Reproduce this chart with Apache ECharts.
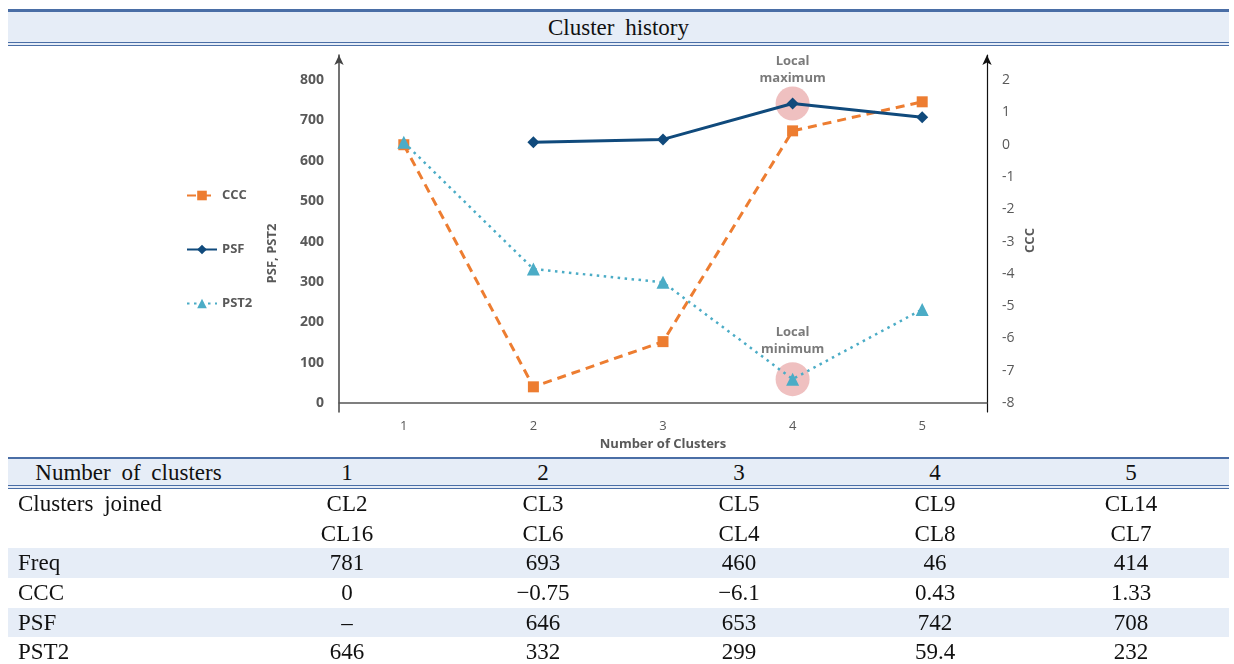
<!DOCTYPE html>
<html>
<head>
<meta charset="utf-8">
<script src="https://cdn.jsdelivr.net/npm/echarts@6/dist/echarts.min.js"></script>
<style>
  body { margin: 0; background: #fff; }
  #chart { position: absolute; left: 0; top: 0; width: 1234px; height: 664px; }
  .serif { font-family: "Liberation Serif", "DejaVu Serif", serif; color: #111; }
  #title {
    position: absolute; left: 8px; top: 9px; width: 1221px; height: 30px;
    background: #e6edf7; border-top: 3px solid #4a6ea6; border-bottom: 4px double #4a6ea6;
    text-align: center; font-size: 23px; line-height: 31px; word-spacing: 5px;
  }
  #table { position: absolute; left: 8px; top: 457px; width: 1221px; }
  .row { position: relative; height: 29.7px; font-size: 23px; line-height: 30px; }
  .row.head { height: 26px; line-height: 27px; background: #e6edf7;
    border-top: 2px solid #4a6ea6; border-bottom: 4px double #4a6ea6; }
  .row.shade { background: #e6edf7; }
  .cell { position: absolute; top: 0; width: 196px; text-align: center; word-spacing: 5px; }
  .lab { position: absolute; top: 0; left: 10px; word-spacing: 5px; }
</style>
</head>
<body>
<div id="chart"></div>
<div id="title" class="serif">Cluster history</div>
<div id="table" class="serif"></div>
<script>
// chart data
const categories = ['1', '2', '3', '4', '5'];
const cccPlot = [0, -7.5, -6.1, 0.43, 1.33];
const psf = ['-', 646, 653, 742, 708];
const pst2 = [646, 332, 299, 59.4, 232];
const leftTicks = [0, 100, 200, 300, 400, 500, 600, 700, 800];
const rightTicks = [-8, -7, -6, -5, -4, -3, -2, -1, 0, 1, 2];

// table data
const joinedA = ['CL2', 'CL3', 'CL5', 'CL9', 'CL14'];
const joinedB = ['CL16', 'CL6', 'CL4', 'CL8', 'CL7'];
const freq = ['781', '693', '460', '46', '414'];
const cccText = ['0', '\u22120.75', '\u22126.1', '0.43', '1.33'];
const psfText = ['\u2013', '646', '653', '742', '708'];
const pst2Text = ['646', '332', '299', '59.4', '232'];

// build the table
const tableRows = [
  { label: 'Number of clusters', vals: categories, cls: 'head' },
  { label: 'Clusters joined', vals: joinedA, cls: '' },
  { label: '', vals: joinedB, cls: '' },
  { label: 'Freq', vals: freq, cls: 'shade' },
  { label: 'CCC', vals: cccText, cls: '' },
  { label: 'PSF', vals: psfText, cls: 'shade' },
  { label: 'PST2', vals: pst2Text, cls: '' }
];
let html = '';
tableRows.forEach(r => {
  html += '<div class="row ' + r.cls + '">';
  if (r.cls === 'head') {
    html += '<div class="cell" style="left:0;width:241px">' + r.label + '</div>';
  } else {
    html += '<div class="lab">' + r.label + '</div>';
  }
  r.vals.forEach((v, i) => {
    html += '<div class="cell" style="left:' + (241 + i * 196) + 'px">' + v + '</div>';
  });
  html += '</div>';
});
document.getElementById('table').innerHTML = html;

const gray = '#595959';
const font = '"Open Sans", "Noto Sans", sans-serif';
const myChart = echarts.init(document.getElementById('chart'));
const option = {
  animation: false,
  textStyle: { fontFamily: font },
  grid: { left: 339, right: 247, top: 55, bottom: 252 },
  legend: {
    orient: 'vertical', left: 186, top: 189, padding: 0, itemWidth: 30, itemHeight: 12, itemGap: 41,
    data: ['CCC', 'PSF', 'PST2'],
    textStyle: { color: gray, fontSize: 13, fontWeight: 'bold', fontFamily: font }
  },
  xAxis: {
    type: 'category', data: categories, boundaryGap: true,
    name: 'Number of Clusters', nameLocation: 'middle', nameGap: 25,
    nameTextStyle: { color: gray, fontSize: 13, fontWeight: 'bold' },
    axisLine: { lineStyle: { color: '#555', width: 1.5 } },
    axisTick: { show: false },
    axisLabel: { color: gray, fontSize: 13, margin: 8 }
  },
  yAxis: [
    {
      type: 'value', min: -22, max: 862, position: 'left',
      name: 'PSF, PST2', nameLocation: 'middle', nameGap: 60, nameMoveOverlap: false,
      nameTextStyle: { color: gray, fontSize: 13, fontWeight: 'bold', padding: [0, 40, 0, 0] },
      splitLine: { show: false }, axisTick: { show: false },
      axisLine: { show: true, symbol: ['none', 'arrow'], symbolSize: [7, 10], lineStyle: { color: '#444', width: 1.5 } },
      axisLabel: { customValues: leftTicks, color: gray, fontSize: 14, fontWeight: 'bold', margin: 15 }
    },
    {
      type: 'value', min: -8.28, max: 2.78, position: 'right',
      name: 'CCC', nameLocation: 'middle', nameGap: 37, nameRotate: 90, nameMoveOverlap: false,
      nameTextStyle: { color: gray, fontSize: 13, fontWeight: 'bold', padding: [0, 14, 0, 0] },
      splitLine: { show: false }, axisTick: { show: false },
      axisLine: { show: true, symbol: ['none', 'arrow'], symbolSize: [7, 10], lineStyle: { color: '#111', width: 1.2 } },
      axisLabel: { customValues: rightTicks, color: gray, fontSize: 14, margin: 15 }
    }
  ],
  series: [
    {
      name: 'highlight', type: 'scatter', yAxisIndex: 0, z: 1, silent: true,
      symbol: 'circle', symbolSize: 34,
      itemStyle: { color: 'rgba(228,150,150,0.75)' },
      label: {
        show: true, position: 'top', distance: 0, color: gray, fontSize: 13,
        fontWeight: 'bold', lineHeight: 17, align: 'center',
        formatter: p => p.data.text
      },
      data: [
        { value: [categories[3], psf[3]], text: 'Local\nmaximum' },
        { value: [categories[3], pst2[3]], text: 'Local\nminimum', label: { distance: 4 } }
      ]
    },
    {
      name: 'CCC', type: 'line', yAxisIndex: 1, data: cccPlot, z: 3,
      symbol: 'rect', symbolSize: 11, color: '#ED7D31',
      lineStyle: { width: 3, type: [9, 6] },
      itemStyle: { color: '#ED7D31' }
    },
    {
      name: 'PSF', type: 'line', yAxisIndex: 0, data: psf, z: 4,
      symbol: 'diamond', symbolSize: 12, color: '#104A7C',
      lineStyle: { width: 3 },
      itemStyle: { color: '#104A7C' }
    },
    {
      name: 'PST2', type: 'line', yAxisIndex: 0, data: pst2, z: 5,
      symbol: 'triangle', symbolSize: 13, color: '#4BACC6',
      lineStyle: { width: 2.5, type: [2.5, 4.5] },
      itemStyle: { color: '#4BACC6' }
    }
  ]
};
myChart.setOption(option);
</script>
</body>
</html>
